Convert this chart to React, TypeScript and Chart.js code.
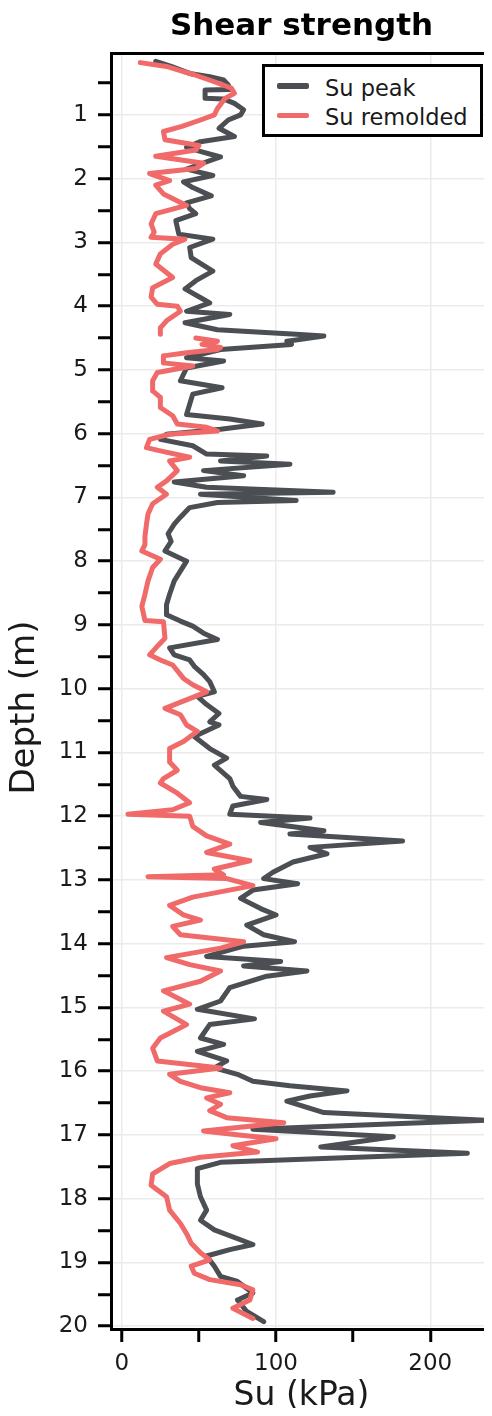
import React, { useEffect, useRef } from 'react';
import { Chart, registerables } from 'chart.js';

Chart.register(...registerables);

const TITLE = 'Shear strength';
const X_TITLE = 'Su (kPa)';
const Y_TITLE = 'Depth (m)';
const SERIES_NAMES = ['Su peak', 'Su remolded'];
const SERIES_COLORS = ['#4b4e53', '#f06a6a'];

// [depth (m), Su (kPa)]
const peakProfile: [number, number][] = [
  [0.16, 22], [0.24, 32], [0.35, 44], [0.40, 57], [0.45, 66], [0.53, 69], [0.60, 70], [0.61, 54],
  [0.74, 54], [0.75, 66], [0.82, 73], [0.92, 79], [1.00, 77], [1.08, 69], [1.21, 63], [1.34, 73],
  [1.42, 51], [1.51, 42], [1.58, 52], [1.66, 64], [1.77, 51], [1.85, 42], [1.95, 59], [2.05, 40],
  [2.14, 46], [2.27, 58], [2.38, 42], [2.47, 44], [2.55, 48], [2.66, 35], [2.87, 37], [2.95, 59],
  [3.08, 44], [3.24, 45], [3.45, 59], [3.60, 48], [3.73, 41], [3.88, 52], [3.95, 57], [4.08, 42],
  [4.13, 70], [4.26, 41], [4.37, 62], [4.44, 113], [4.47, 131], [4.55, 107], [4.60, 110], [4.68, 64],
  [4.81, 42], [4.86, 66], [4.97, 42], [5.17, 38], [5.28, 65], [5.38, 46], [5.54, 44], [5.70, 42],
  [5.77, 70], [5.85, 91], [5.93, 64], [6.01, 29], [6.09, 25], [6.19, 46], [6.32, 55], [6.35, 94],
  [6.43, 64], [6.48, 109], [6.58, 53], [6.66, 79], [6.76, 34], [6.84, 55], [6.92, 137], [6.95, 51],
  [7.05, 113], [7.08, 62], [7.16, 44], [7.31, 38], [7.42, 34], [7.57, 30], [7.69, 32], [7.84, 28],
  [8.00, 42], [8.31, 34], [8.52, 31], [8.68, 29], [8.84, 29], [8.94, 38], [9.02, 46], [9.13, 53],
  [9.23, 62], [9.36, 31], [9.47, 34], [9.55, 44], [9.65, 47], [9.78, 53], [9.89, 57], [10.05, 60],
  [10.12, 49], [10.25, 55], [10.39, 63], [10.52, 57], [10.57, 63], [10.75, 47], [10.94, 57], [11.09, 68],
  [11.20, 60], [11.41, 70], [11.53, 72], [11.69, 77], [11.74, 94], [11.84, 72], [11.97, 70], [12.03, 122],
  [12.10, 90], [12.23, 131], [12.28, 109], [12.39, 182], [12.49, 122], [12.59, 133], [12.72, 111], [12.88, 98],
  [12.98, 92], [13.06, 114], [13.16, 85], [13.29, 77], [13.45, 90], [13.55, 100], [13.71, 81], [13.86, 92],
  [13.97, 112], [14.04, 79], [14.20, 55], [14.28, 103], [14.35, 79], [14.43, 120], [14.51, 94], [14.69, 70],
  [14.90, 64], [15.03, 49], [15.18, 86], [15.27, 57], [15.48, 51], [15.58, 66], [15.69, 49], [15.84, 68],
  [15.95, 60], [16.05, 75], [16.16, 85], [16.23, 109], [16.31, 146], [16.39, 122], [16.47, 107], [16.57, 120],
  [16.65, 131], [16.77, 236], [16.91, 85], [17.03, 176], [17.19, 129], [17.29, 224], [17.43, 64], [17.53, 49],
  [17.77, 49], [17.97, 51], [18.18, 55], [18.34, 51], [18.49, 60], [18.72, 85], [18.80, 70], [18.90, 55],
  [19.06, 60], [19.22, 64], [19.30, 75], [19.48, 85], [19.59, 75], [19.77, 81], [19.93, 92],
];

const remoldedProfile: [number, number | null][] = [
  [0.18, 12], [0.24, 29], [0.32, 40], [0.37, 47], [0.48, 60], [0.58, 71], [0.66, 73], [0.74, 67],
  [0.90, 62], [1.00, 60], [1.08, 51], [1.18, 39], [1.26, 27], [1.39, 28], [1.48, 50], [1.55, 48],
  [1.65, 22], [1.76, 53], [1.84, 48], [1.92, 18], [2.03, 31], [2.10, 22], [2.24, 27], [2.42, 42],
  [2.55, 22], [2.71, 19], [2.84, 21], [2.92, 19], [2.95, 41], [3.03, 33], [3.18, 25], [3.34, 22],
  [3.55, 33], [3.71, 20], [3.86, 19], [3.97, 23], [4.00, 36], [4.08, 38], [4.23, 29], [4.34, 25],
  [4.44, 25], [4.47, null], [4.50, 48], [4.55, 62], [4.60, 52], [4.65, 64], [4.68, 62], [4.73, 42],
  [4.78, 27], [4.89, 27], [4.94, 46], [5.04, 23], [5.17, 20], [5.33, 20], [5.43, 25], [5.59, 25],
  [5.72, 33], [5.85, 36], [5.90, 55], [5.96, 62], [6.01, 31], [6.09, 18], [6.22, 16], [6.27, 25],
  [6.37, 44], [6.43, 31], [6.58, 36], [6.74, 29], [6.84, 23], [6.95, 29], [7.10, 20], [7.26, 17],
  [7.42, 16], [7.62, 15], [7.74, 15], [7.84, 13], [7.97, 25], [8.10, 20], [8.31, 17], [8.52, 15],
  [8.71, 13], [8.93, 15], [8.95, 27], [9.21, 28], [9.31, 24], [9.47, 18], [9.55, 25], [9.63, 33],
  [9.84, 40], [9.94, 46], [10.05, 55], [10.31, 28], [10.41, 38], [10.57, 42], [10.67, 49], [10.83, 40],
  [10.94, 31], [11.15, 31], [11.28, 36], [11.41, 27], [11.48, 25], [11.64, 36], [11.79, 44], [11.90, 33],
  [11.97, 4], [12.00, 44], [12.16, 46], [12.31, 55], [12.44, 70], [12.57, 55], [12.70, 83], [12.83, 60],
  [12.92, 66], [12.95, 17], [12.98, 68], [13.09, 85], [13.27, 46], [13.40, 31], [13.55, 40], [13.63, 51],
  [13.73, 33], [13.86, 38], [13.97, 79], [14.07, 64], [14.22, 29], [14.33, 44], [14.43, 64], [14.59, 51],
  [14.74, 27], [14.95, 44], [15.06, 27], [15.27, 42], [15.48, 25], [15.64, 20], [15.84, 23], [15.95, 64],
  [16.05, 31], [16.16, 38], [16.26, 51], [16.34, 70], [16.42, 55], [16.52, 64], [16.62, 57], [16.73, 68],
  [16.81, 105], [16.94, 53], [17.01, 79], [17.06, 100], [17.17, 72], [17.27, 88], [17.35, 51], [17.45, 31],
  [17.61, 20], [17.79, 19], [17.97, 29], [18.18, 31], [18.39, 38], [18.55, 42], [18.70, 45], [18.85, 51],
  [18.96, 57], [19.06, 45], [19.17, 47], [19.27, 57], [19.35, 77], [19.43, 85], [19.59, 83], [19.72, 72],
  [19.88, 85],
];

const xTickValues = [0, 50, 100, 150, 200];
const xTickLabels = ['0', '', '100', '', '200'];
const xGridValues = [0, 100, 200];
const yTickValues = [
  0.5, 1, 1.5, 2, 2.5, 3, 3.5, 4, 4.5, 5, 5.5, 6, 6.5, 7, 7.5, 8, 8.5, 9, 9.5, 10,
  10.5, 11, 11.5, 12, 12.5, 13, 13.5, 14, 14.5, 15, 15.5, 16, 16.5, 17, 17.5, 18, 18.5, 19, 19.5, 20,
];

const FONT = "'DejaVu Sans', Verdana, sans-serif";
const TEXT_COLOR = '#1a1a1a';
const GRID_COLOR = '#ebebeb';

export default function App() {
  const canvasRef = useRef<HTMLCanvasElement>(null);

  useEffect(() => {
    const canvas = canvasRef.current;
    if (!canvas) return;
    const toPoints = (p: [number, number | null][]) => p.map(([d, s]) => ({ x: s, y: d }));
    const chart = new Chart(canvas, {
      type: 'line',
      data: {
        datasets: [
          {
            label: SERIES_NAMES[0],
            data: toPoints(peakProfile) as any,
            borderColor: SERIES_COLORS[0],
            backgroundColor: SERIES_COLORS[0],
            borderWidth: 5,
            pointRadius: 0,
            tension: 0,
            fill: false,
            order: 1,
            borderJoinStyle: 'round',
            borderCapStyle: 'round',
            xAxisID: 'x',
            yAxisID: 'y',
          },
          {
            label: SERIES_NAMES[1],
            data: toPoints(remoldedProfile) as any,
            borderColor: SERIES_COLORS[1],
            backgroundColor: SERIES_COLORS[1],
            borderWidth: 5,
            pointRadius: 0,
            tension: 0,
            fill: false,
            order: 0,
            spanGaps: false,
            borderJoinStyle: 'round',
            borderCapStyle: 'round',
            xAxisID: 'x',
            yAxisID: 'y',
          },
        ],
      },
      options: {
        indexAxis: 'y',
        responsive: false,
        animation: false,
        devicePixelRatio: 1,
        layout: { padding: 0 },
        plugins: {
          legend: { display: false },
          tooltip: { enabled: false },
          title: {
            display: true,
            text: TITLE,
            fullSize: false,
            color: '#000',
            font: { family: FONT, size: 31, weight: 'bold', lineHeight: 1.2 },
            padding: { top: 0, bottom: 8.5 },
          },
        },
        scales: {
          x: {
            type: 'linear',
            position: 'bottom',
            min: -7,
            max: 240,
            afterFit: (s: any) => { s.height = 79; },
            afterBuildTicks: (s: any) => { s.ticks = xTickValues.map((v) => ({ value: v })); },
            ticks: {
              autoSkip: false,
              maxRotation: 0,
              padding: 8,
              color: TEXT_COLOR,
              font: { family: FONT, size: 23 },
              callback: (v: any) => xTickLabels[xTickValues.indexOf(Number(v))] ?? '',
            },
            grid: {
              color: (ctx: any) => (ctx.tick && xGridValues.includes(ctx.tick.value) ? GRID_COLOR : 'rgba(0,0,0,0)'),
              lineWidth: 1.5,
              tickColor: '#000',
              tickLength: 13,
              tickWidth: 3,
            },
            border: { display: true, color: '#000', width: 3 },
            title: {
              display: true,
              text: X_TITLE,
              color: TEXT_COLOR,
              font: { family: FONT, size: 33, lineHeight: 0.7 },
              padding: 0,
            },
          },
          x2: {
            type: 'linear',
            position: 'top',
            min: -7,
            max: 240,
            afterFit: (s: any) => { s.height = 0; },
            ticks: { display: false },
            grid: { display: false, drawTicks: false },
            border: { display: true, color: '#000', width: 3 },
          },
          y: {
            type: 'linear',
            position: 'left',
            reverse: true,
            min: 0.04,
            max: 20.045,
            afterFit: (s: any) => { s.width = 103; },
            afterBuildTicks: (s: any) => { s.ticks = yTickValues.map((v) => ({ value: v })); },
            ticks: {
              autoSkip: false,
              padding: 10,
              color: TEXT_COLOR,
              font: { family: FONT, size: 23 },
              callback: (v: any) => (Number.isInteger(Number(v)) ? String(v) : ''),
            },
            grid: {
              color: (ctx: any) => (ctx.tick && Number.isInteger(ctx.tick.value) ? GRID_COLOR : 'rgba(0,0,0,0)'),
              lineWidth: 1.5,
              tickColor: '#000',
              tickLength: 13,
              tickWidth: 3,
            },
            border: { display: true, color: '#000', width: 3 },
            title: {
              display: true,
              text: Y_TITLE + '   ',
              color: TEXT_COLOR,
              font: { family: FONT, size: 34, lineHeight: 1 },
              padding: { top: 0, bottom: 0 },
            },
          },
        },
      } as any,
    });
    return () => chart.destroy();
  }, []);

  const textStyle: React.CSSProperties = {
    position: 'absolute',
    fontFamily: FONT,
    fontSize: 22.5,
    lineHeight: '22px',
    color: TEXT_COLOR,
    whiteSpace: 'nowrap',
  };

  return (
    <div style={{ position: 'relative', width: 484, height: 1400 }}>
      <canvas ref={canvasRef} width={484} height={1400} style={{ display: 'block', width: 484, height: 1400 }} />
      <div
        style={{
          position: 'absolute',
          left: 254,
          top: 56,
          width: 221,
          height: 73,
          border: '3px solid #000',
          boxSizing: 'border-box',
          background: '#fff',
        }}
      />
      <div style={{ position: 'absolute', left: 269, top: 75, width: 32, height: 5.5, borderRadius: 2, background: SERIES_COLORS[0] }} />
      <div style={{ position: 'absolute', left: 269, top: 104.5, width: 32, height: 5.5, borderRadius: 2, background: SERIES_COLORS[1] }} />
      <span style={{ ...textStyle, left: 317, top: 69.4 }}>{SERIES_NAMES[0]}</span>
      <span style={{ ...textStyle, left: 317, top: 98 }}>{SERIES_NAMES[1]}</span>
    </div>
  );
}
